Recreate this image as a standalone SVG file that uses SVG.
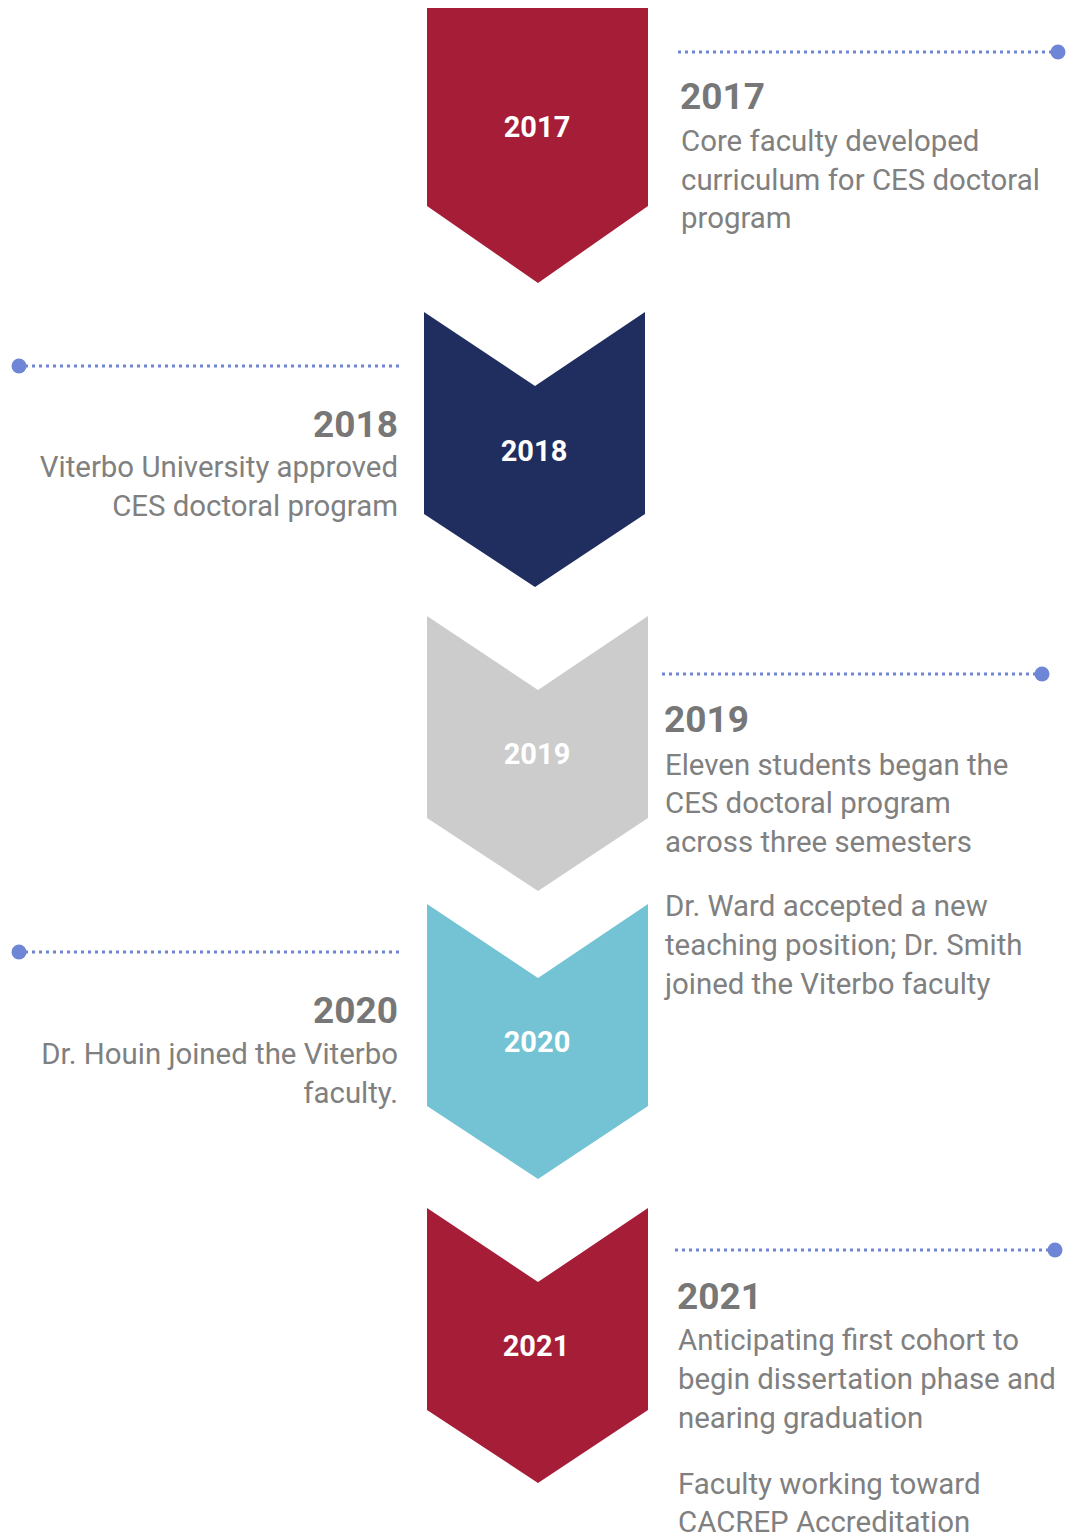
<svg xmlns="http://www.w3.org/2000/svg" width="1070" height="1534" viewBox="0 0 1070 1534">
  <style>
    .chev-label { font-family: Roboto, "Liberation Sans", sans-serif; font-weight: 700; font-size: 29px; fill: #ffffff; text-anchor: middle; }
    .year { font-family: Roboto, "Liberation Sans", sans-serif; font-weight: 700; font-size: 37px; fill: #777777; }
    .body { font-family: Roboto, "Liberation Sans", sans-serif; font-weight: 400; font-size: 29.4px; fill: #808080; }
    .right { text-anchor: end; }
    .leader { stroke: #6f86d6; stroke-width: 3; stroke-dasharray: 3 4; fill: none; }
    .pin { fill: #6f86d6; }
  </style>

  <!-- 2017 -->
  <g id="node-2017">
    <path d="M427,8 H648 V206 L538,283 L427,206 Z" fill="#a51d36"/>
    <text class="chev-label" x="537" y="137">2017</text>
    <text class="year" x="680" y="109">2017</text>
    <text class="body" x="681" y="151">Core faculty developed</text>
    <text class="body" x="681" y="190">curriculum for CES doctoral</text>
    <text class="body" x="681" y="228">program</text>
  </g>

  <!-- 2018 -->
  <g id="node-2018">
    <path d="M424,312 L535,386 L645,312 V514 L535,587 L424,514 Z" fill="#1f2e5e"/>
    <text class="chev-label" x="534" y="461">2018</text>
    <text class="year right" x="398" y="437">2018</text>
    <text class="body right" x="398" y="477">Viterbo University approved</text>
    <text class="body right" x="398" y="516">CES doctoral program</text>
  </g>

  <!-- 2019 -->
  <g id="node-2019">
    <path d="M427,616 L538,690 L648,616 V818 L538,891 L427,818 Z" fill="#cccccc"/>
    <text class="chev-label" x="537" y="764">2019</text>
    <text class="year" x="664" y="732">2019</text>
    <text class="body" x="665" y="775">Eleven students began the</text>
    <text class="body" x="665" y="813">CES doctoral program</text>
    <text class="body" x="665" y="852">across three semesters</text>
    <text class="body" x="665" y="916">Dr. Ward accepted a new</text>
    <text class="body" x="665" y="955">teaching position; Dr. Smith</text>
    <text class="body" x="665" y="994">joined the Viterbo faculty</text>
  </g>

  <!-- 2020 -->
  <g id="node-2020">
    <path d="M427,904 L538,978 L648,904 V1106 L538,1179 L427,1106 Z" fill="#74c3d5"/>
    <text class="chev-label" x="537" y="1052">2020</text>
    <text class="year right" x="398" y="1023">2020</text>
    <text class="body right" x="398" y="1064">Dr. Houin joined the Viterbo</text>
    <text class="body right" x="398" y="1103">faculty.</text>
  </g>

  <!-- 2021 -->
  <g id="node-2021">
    <path d="M427,1208 L538,1282 L648,1208 V1410 L538,1483 L427,1410 Z" fill="#a51d36"/>
    <text class="chev-label" x="536" y="1356">2021</text>
    <text class="year" x="677" y="1309">2021</text>
    <text class="body" x="678" y="1350">Anticipating first cohort to</text>
    <text class="body" x="678" y="1389">begin dissertation phase and</text>
    <text class="body" x="678" y="1428">nearing graduation</text>
    <text class="body" x="678" y="1494">Faculty working toward</text>
    <text class="body" x="678" y="1532">CACREP Accreditation</text>
  </g>

  <!-- dotted leaders with end pins -->
  <g id="connectors">
    <line class="leader" x1="678" y1="52" x2="1052" y2="52"/>
    <circle class="pin" cx="1058" cy="52" r="7.5"/>
    <line class="leader" x1="25" y1="366" x2="400" y2="366"/>
    <circle class="pin" cx="19" cy="366" r="7.5"/>
    <line class="leader" x1="662" y1="674" x2="1036" y2="674"/>
    <circle class="pin" cx="1042" cy="674" r="7.5"/>
    <line class="leader" x1="25" y1="952" x2="400" y2="952"/>
    <circle class="pin" cx="19" cy="952" r="7.5"/>
    <line class="leader" x1="675" y1="1250" x2="1049" y2="1250"/>
    <circle class="pin" cx="1055" cy="1250" r="7.5"/>
  </g>
</svg>
